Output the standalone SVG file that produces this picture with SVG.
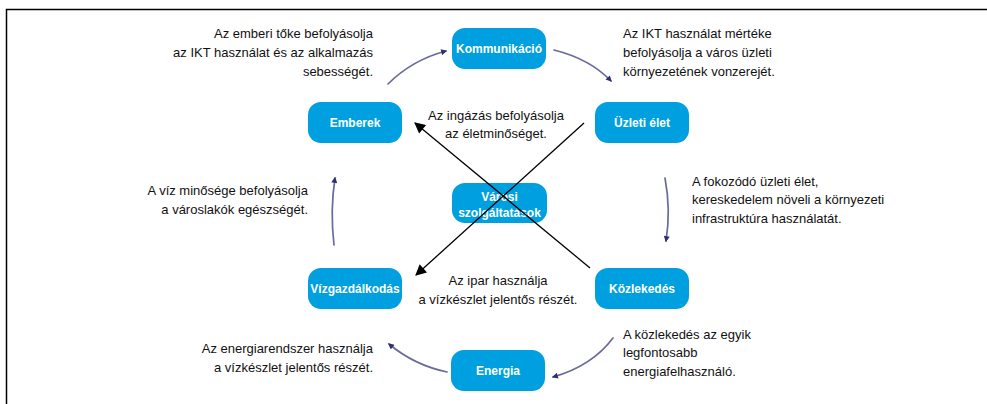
<svg xmlns="http://www.w3.org/2000/svg" width="987" height="404" viewBox="0 0 987 404">
<style>
.node rect{fill:#009fe0;}
.node text{fill:#fff;font-family:"Liberation Sans",Arial,sans-serif;font-weight:bold;font-size:12px;text-anchor:middle;}
.lbl{font-family:"Liberation Sans",Arial,sans-serif;font-size:13px;fill:#111;}
.end{text-anchor:end;}
.mid{text-anchor:middle;}
.cyc{fill:none;stroke:#6a6a9c;stroke-width:1.7;stroke-linecap:round;marker-end:url(#nav);}
.blk{fill:none;stroke:#000;stroke-width:1.3;marker-end:url(#bk);}
</style>
<defs>
<marker id="nav" viewBox="0 0 10 10" refX="8" refY="5" markerWidth="7" markerHeight="6" orient="auto" markerUnits="userSpaceOnUse">
<path d="M0,0 L10,5 L0,10 z" fill="#2e2e70"/>
</marker>
<marker id="bk" viewBox="0 0 10 10" refX="9" refY="5" markerWidth="14" markerHeight="11" orient="auto" markerUnits="userSpaceOnUse">
<path d="M0,0 L10,5 L0,10 z" fill="#000"/>
</marker>
</defs>
<rect width="987" height="404" fill="#fff"/>
<path d="M6.5,404 V9.5 H987" fill="none" stroke="#000" stroke-width="1.5"/>

<g id="n-kommunikacio" class="node"><rect x="452" y="28" width="94" height="41" rx="13"/><text x="499" y="53">Kommunikáció</text></g>
<g id="n-emberek" class="node"><rect x="308" y="102" width="94" height="41" rx="13"/><text x="355" y="127">Emberek</text></g>
<g id="n-uzleti" class="node"><rect x="595" y="102" width="94" height="41" rx="13"/><text x="642" y="127">Üzleti élet</text></g>
<g id="n-varosi" class="node"><rect x="452" y="183" width="95" height="40" rx="13"/><text x="499.5" y="201">Városi</text><text x="499.5" y="217">szolgáltatások</text></g>
<g id="n-vizgazd" class="node"><rect x="308" y="268" width="94" height="41" rx="13"/><text x="355" y="293">Vízgazdálkodás</text></g>
<g id="n-kozlekedes" class="node"><rect x="595" y="268" width="94" height="41" rx="13"/><text x="642" y="293">Közlekedés</text></g>
<g id="n-energia" class="node"><rect x="451" y="350" width="94" height="41" rx="13"/><text x="498" y="375">Energia</text></g>

<g id="connectors">
<path class="cyc" d="M388,84 Q412,60 446,51"/>
<path class="cyc" d="M554,50 Q590,59 611,81"/>
<path class="cyc" d="M665,178 Q671,210 666,241"/>
<path class="cyc" d="M613,338 Q592,366 553,377"/>
<path class="cyc" d="M447,372 Q414,365 389,344"/>
<path class="cyc" d="M334,245 Q330,210 335,178"/>
<path class="blk" d="M590,268 L415,123"/>
<path class="blk" d="M584,123 L416,275"/>
</g>

<g id="labels">
<text class="lbl end" x="373" y="38">Az emberi tőke befolyásolja</text>
<text class="lbl end" x="373" y="57">az IKT használat és az alkalmazás</text>
<text class="lbl end" x="373" y="76">sebességét.</text>

<text class="lbl" x="623" y="38">Az IKT használat mértéke</text>
<text class="lbl" x="623" y="57">befolyásolja a város üzleti</text>
<text class="lbl" x="623" y="76">környezetének vonzerejét.</text>

<text class="lbl mid" x="496" y="120">Az ingázás befolyásolja</text>
<text class="lbl mid" x="496" y="138">az életminőséget.</text>

<text class="lbl end" x="308" y="195">A víz minősége befolyásolja</text>
<text class="lbl end" x="308" y="214">a városlakók egészségét.</text>

<text class="lbl" x="692" y="186">A fokozódó üzleti élet,</text>
<text class="lbl" x="692" y="204">kereskedelem növeli a környezeti</text>
<text class="lbl" x="692" y="223">infrastruktúra használatát.</text>

<text class="lbl mid" x="498" y="285">Az ipar használja</text>
<text class="lbl mid" x="498" y="304">a vízkészlet jelentős részét.</text>

<text class="lbl" x="623" y="339">A közlekedés az egyik</text>
<text class="lbl" x="623" y="357">legfontosabb</text>
<text class="lbl" x="623" y="376">energiafelhasználó.</text>

<text class="lbl end" x="373" y="353">Az energiarendszer használja</text>
<text class="lbl end" x="373" y="372">a vízkészlet jelentős részét.</text>
</g>
</svg>
